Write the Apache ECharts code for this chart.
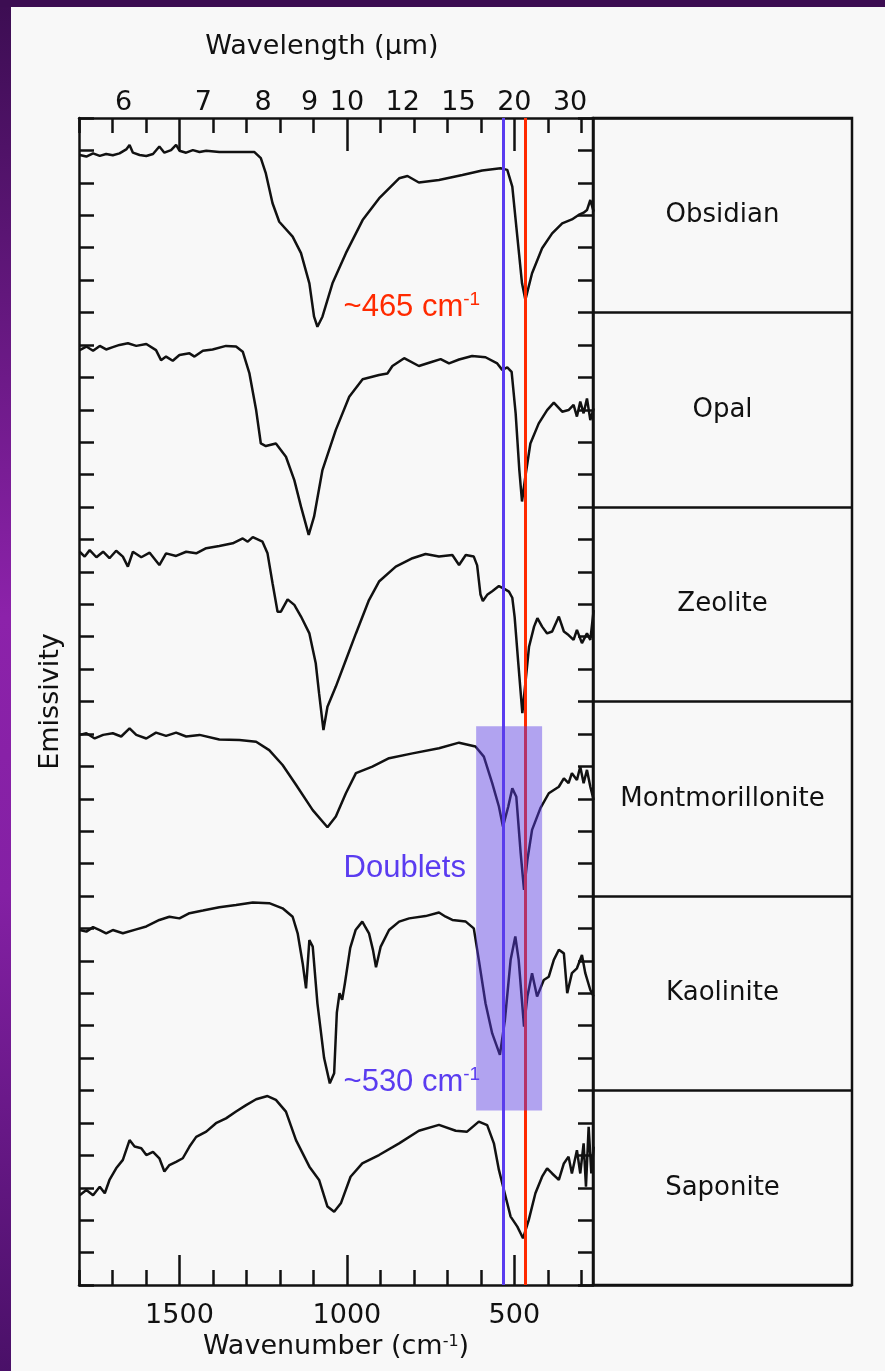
<!DOCTYPE html>
<html>
<head>
<meta charset="utf-8">
<title>Emissivity spectra</title>
<script src="https://cdn.jsdelivr.net/npm/echarts@6.0.0/dist/echarts.min.js"></script>
<style>
  html, body { margin: 0; padding: 0; background: #f8f8f8; }
  #chart { width: 885px; height: 1371px; }
</style>
</head>
<body>
<div id="chart"></div>
<script>
// wavenumber ticks (cm-1), bottom and top axes
const wnMajor = [1500, 1000, 500];
const wnMinor = [1800, 1700, 1600, 1500, 1400, 1300, 1200, 1100, 1000, 900, 800, 700, 600, 500, 400, 300];
// wavelength labels (um) on the top axis
const wavelengths = [6, 7, 8, 9, 10, 12, 15, 20, 30];
const minerals = ["Obsidian", "Opal", "Zeolite", "Montmorillonite", "Kaolinite", "Saponite"];

// spectra: [wavenumber, emissivity (stacked, in tick units)]
const obsidian = [
  [1798, 34.86], [1778, 34.81], [1758, 34.91], [1738, 34.83], [1719, 34.89], [1699, 34.85],
  [1679, 34.91], [1659, 35.03], [1649, 35.17], [1639, 34.93], [1619, 34.86], [1599, 34.83],
  [1579, 34.89], [1560, 35.12], [1545, 34.93], [1525, 35.01], [1510, 35.17], [1500, 34.99],
  [1480, 34.93], [1460, 35.01], [1440, 34.95], [1420, 34.99], [1381, 34.95], [1331, 34.95],
  [1276, 34.95], [1257, 34.76], [1242, 34.29], [1222, 33.37], [1202, 32.80], [1162, 32.34],
  [1137, 31.83], [1112, 30.90], [1098, 29.87], [1088, 29.56], [1073, 29.87], [1043, 30.90],
  [1003, 31.83], [953, 32.85], [904, 33.52], [844, 34.14], [819, 34.21], [785, 34.01],
  [725, 34.09], [655, 34.24], [596, 34.38], [541, 34.45], [521, 34.40], [506, 33.88],
  [491, 32.34], [477, 30.90], [467, 30.39], [447, 31.21], [417, 31.98], [387, 32.44],
  [357, 32.75], [328, 32.87], [308, 33.01], [293, 33.08], [283, 33.16], [273, 33.47], [263, 33.11]
];
const opal = [
  [1798, 28.84], [1778, 28.95], [1758, 28.82], [1738, 28.97], [1719, 28.86], [1699, 28.93],
  [1679, 29.00], [1654, 29.05], [1629, 28.97], [1599, 29.03], [1570, 28.84], [1555, 28.53],
  [1540, 28.64], [1520, 28.51], [1500, 28.69], [1470, 28.74], [1455, 28.64], [1430, 28.82],
  [1401, 28.86], [1361, 28.97], [1331, 28.95], [1311, 28.79], [1291, 28.12], [1271, 26.99],
  [1257, 25.96], [1242, 25.88], [1212, 25.96], [1182, 25.55], [1157, 24.83], [1137, 24.01],
  [1114, 23.14], [1098, 23.70], [1073, 25.14], [1033, 26.38], [993, 27.40], [953, 27.94],
  [904, 28.07], [879, 28.12], [864, 28.35], [829, 28.59], [785, 28.35], [745, 28.48],
  [720, 28.56], [695, 28.43], [665, 28.55], [626, 28.66], [586, 28.62], [551, 28.43],
  [536, 28.23], [521, 28.31], [508, 28.17], [496, 26.89], [485, 25.14], [477, 24.17],
  [467, 24.94], [452, 25.96], [427, 26.58], [402, 26.99], [382, 27.22], [357, 26.94],
  [338, 26.99], [323, 27.15], [313, 26.79], [303, 27.25], [293, 26.89], [283, 27.35],
  [273, 26.68], [263, 27.04]
];
const zeolite = [
  [1798, 22.62], [1783, 22.47], [1768, 22.67], [1748, 22.45], [1728, 22.62], [1709, 22.42],
  [1689, 22.65], [1669, 22.47], [1654, 22.16], [1639, 22.62], [1614, 22.45], [1589, 22.59],
  [1560, 22.21], [1540, 22.57], [1510, 22.49], [1480, 22.62], [1450, 22.57], [1420, 22.73],
  [1381, 22.80], [1341, 22.88], [1311, 23.03], [1296, 22.93], [1281, 23.07], [1252, 22.93],
  [1237, 22.57], [1222, 21.65], [1207, 20.77], [1197, 20.77], [1177, 21.15], [1157, 20.98],
  [1137, 20.62], [1112, 20.10], [1093, 19.18], [1083, 18.25], [1070, 17.12], [1058, 17.84],
  [1033, 18.46], [1003, 19.28], [973, 20.10], [934, 21.13], [904, 21.70], [854, 22.16],
  [804, 22.42], [765, 22.55], [725, 22.47], [685, 22.52], [665, 22.21], [645, 22.52],
  [621, 22.47], [611, 22.20], [601, 21.30], [594, 21.10], [581, 21.29], [566, 21.40],
  [546, 21.56], [531, 21.48], [516, 21.39], [506, 21.20], [499, 20.60], [488, 19.17],
  [476, 17.64], [466, 18.66], [456, 19.69], [441, 20.31], [431, 20.57], [417, 20.31],
  [402, 20.10], [387, 20.16], [367, 20.62], [352, 20.16], [338, 20.05], [323, 19.90],
  [313, 20.21], [298, 19.80], [283, 20.10], [273, 19.90], [263, 20.82]
];
const montmorillonite = [
  [1798, 16.97], [1778, 17.02], [1753, 16.86], [1728, 16.97], [1699, 17.02], [1674, 16.92],
  [1649, 17.17], [1629, 16.97], [1599, 16.86], [1570, 17.04], [1540, 16.94], [1510, 17.04],
  [1480, 16.92], [1440, 16.97], [1381, 16.83], [1321, 16.81], [1271, 16.76], [1232, 16.50],
  [1192, 16.04], [1152, 15.43], [1102, 14.65], [1058, 14.12], [1033, 14.45], [1003, 15.17],
  [973, 15.79], [924, 15.99], [874, 16.25], [804, 16.40], [725, 16.56], [665, 16.73],
  [616, 16.61], [591, 16.30], [566, 15.48], [546, 14.76], [534, 14.14], [518, 14.76],
  [506, 15.32], [494, 15.06], [481, 13.32], [471, 12.19], [461, 13.11], [447, 14.04],
  [422, 14.71], [397, 15.17], [367, 15.37], [352, 15.63], [338, 15.48], [328, 15.79],
  [313, 15.58], [303, 15.99], [293, 15.48], [283, 15.89], [273, 15.37], [263, 14.96]
];
const kaolinite = [
  [1798, 10.95], [1778, 10.90], [1758, 11.04], [1738, 10.95], [1719, 10.85], [1699, 10.95],
  [1669, 10.85], [1629, 10.97], [1599, 11.06], [1560, 11.26], [1530, 11.36], [1500, 11.31],
  [1470, 11.47], [1430, 11.55], [1381, 11.65], [1331, 11.72], [1281, 11.80], [1232, 11.78],
  [1192, 11.62], [1162, 11.36], [1147, 10.85], [1132, 9.92], [1122, 9.15], [1112, 10.64],
  [1102, 10.44], [1088, 8.69], [1068, 7.00], [1051, 6.22], [1038, 6.53], [1030, 8.40],
  [1022, 9.00], [1014, 8.80], [1006, 9.30], [990, 10.40], [974, 10.95], [954, 11.21], [934, 10.85],
  [922, 10.33], [913, 9.80], [899, 10.44], [874, 10.95], [844, 11.21], [814, 11.31],
  [765, 11.38], [725, 11.49], [705, 11.36], [685, 11.26], [645, 11.21], [621, 11.00],
  [606, 10.03], [586, 8.69], [566, 7.76], [543, 7.10], [528, 8.18], [511, 10.03],
  [497, 10.75], [487, 10.03], [471, 7.97], [461, 8.90], [447, 9.62], [432, 8.90],
  [412, 9.41], [397, 9.51], [382, 10.03], [367, 10.34], [352, 10.23], [342, 9.00],
  [328, 9.62], [313, 9.77], [298, 10.18], [288, 9.62], [273, 9.10], [263, 8.90]
];
const saponite = [
  [1798, 2.77], [1778, 2.93], [1758, 2.77], [1738, 3.03], [1723, 2.83], [1709, 3.24],
  [1689, 3.60], [1669, 3.86], [1649, 4.47], [1634, 4.27], [1614, 4.22], [1599, 4.01],
  [1579, 4.11], [1560, 3.91], [1545, 3.50], [1530, 3.70], [1510, 3.80], [1490, 3.91],
  [1470, 4.27], [1450, 4.57], [1420, 4.73], [1391, 4.99], [1361, 5.14], [1331, 5.35],
  [1301, 5.55], [1271, 5.73], [1237, 5.83], [1212, 5.71], [1182, 5.35], [1152, 4.47],
  [1112, 3.65], [1083, 3.24], [1058, 2.42], [1038, 2.26], [1018, 2.52], [989, 3.34],
  [954, 3.75], [904, 4.01], [844, 4.37], [785, 4.76], [725, 4.94], [675, 4.76],
  [641, 4.73], [606, 5.04], [581, 4.93], [561, 4.37], [546, 3.55], [531, 2.93],
  [511, 2.11], [491, 1.80], [474, 1.44], [457, 2.00], [437, 2.83], [417, 3.34],
  [402, 3.60], [387, 3.44], [367, 3.24], [352, 3.75], [338, 3.96], [328, 3.44],
  [313, 4.16], [303, 3.44], [293, 4.37], [286, 3.03], [278, 4.88], [270, 3.44], [263, 4.27]
];
const spectra = [obsidian, opal, zeolite, montmorillonite, kaolinite, saponite];

// reference bands (cm-1)
const doubletLine = 533; // ~530
const bandLine = 468;    // ~465

const chart = echarts.init(document.getElementById("chart"));

const ink = "#111111";
const gothic = "DejaVu Sans";
const arial = "Liberation Sans";
const red = "#ff2a00";
const blue = "#5a3cf0";

const xBase = {
  type: "value",
  gridIndex: 0,
  inverse: true,
  min: 265,
  max: 1800,
  splitLine: { show: false },
};

function note(color, main, sup) {
  return {
    show: true,
    position: "right",
    distance: 0,
    formatter: "{t|" + main + "}{s|" + sup + "}",
    rich: {
      t: { color: color, fontFamily: arial, fontSize: 31, lineHeight: 34 },
      s: { color: color, fontFamily: arial, fontSize: 19, lineHeight: 26, verticalAlign: "top" },
    },
  };
}

chart.setOption({
  backgroundColor: "#f8f8f8",
  animation: false,
  textStyle: { fontFamily: gothic, color: ink },
  graphic: [
    {
      type: "rect",
      shape: { x: 0, y: 0, width: 11, height: 1371 },
      style: {
        fill: new echarts.graphic.LinearGradient(0, 0, 0, 1, [
          { offset: 0, color: "#3c0d52" },
          { offset: 0.45, color: "#8c22aa" },
          { offset: 0.65, color: "#8420a4" },
          { offset: 1, color: "#4a1068" },
        ]),
      },
      silent: true,
    },
    {
      type: "rect",
      shape: { x: 0, y: 0, width: 885, height: 7 },
      style: { fill: "#3c0d52" },
      silent: true,
    },
  ],
  grid: [
    { left: 79, top: 118, width: 514, height: 1167 },
    { left: 593, top: 118, width: 259, height: 1167, show: true, borderColor: ink, borderWidth: 2.5, backgroundColor: "transparent" },
  ],
  xAxis: [
    Object.assign({}, xBase, {
      position: "bottom",
      axisLine: { onZero: false, lineStyle: { color: ink, width: 2.5 } },
      axisTick: { inside: true, length: 30, customValues: wnMajor, lineStyle: { color: ink, width: 2.5 } },
      axisLabel: { customValues: wnMajor, formatter: (v) => String(v), fontSize: 27, color: ink, margin: 17, fontFamily: gothic },
      name: "Wavenumber (cm{s|-1})",
      nameLocation: "middle",
      nameGap: 44,
      nameTextStyle: {
        fontSize: 27, color: ink, fontFamily: gothic,
        rich: { s: { fontSize: 16, lineHeight: 20, verticalAlign: "top", color: ink, fontFamily: gothic } },
      },
    }),
    Object.assign({}, xBase, {
      position: "bottom",
      axisLine: { show: false, onZero: false },
      axisTick: { inside: true, length: 15, customValues: wnMinor, lineStyle: { color: ink, width: 2.5 } },
      axisLabel: { show: false },
    }),
    Object.assign({}, xBase, {
      position: "top",
      axisLine: { onZero: false, lineStyle: { color: ink, width: 2.5 } },
      axisTick: { inside: true, length: 33, customValues: wnMajor, lineStyle: { color: ink, width: 2.5 } },
      axisLabel: {
        customValues: wavelengths.map((l) => 10000 / l),
        formatter: (v) => String(Math.round(10000 / v)),
        fontSize: 27, color: ink, margin: 2, fontFamily: gothic,
      },
      name: "Wavelength (\u03bcm)",
      nameLocation: "middle",
      nameGap: 58,
      nameTextStyle: { fontSize: 27, color: ink, fontFamily: gothic, padding: [0, 28, 0, 0] },
    }),
    Object.assign({}, xBase, {
      position: "top",
      axisLine: { show: false, onZero: false },
      axisTick: { inside: true, length: 15, customValues: wnMinor, lineStyle: { color: ink, width: 2.5 } },
      axisLabel: { show: false },
    }),
    { type: "value", gridIndex: 1, min: 0, max: 1, show: false },
  ],
  yAxis: [
    {
      type: "value", gridIndex: 0, position: "left", min: 0, max: 36, interval: 1,
      axisLine: { onZero: false, lineStyle: { color: ink, width: 2.5 } },
      axisTick: { inside: true, length: 15, lineStyle: { color: ink, width: 2.5 } },
      axisLabel: { show: false },
      splitLine: { show: false },
      name: "Emissivity",
      nameLocation: "middle",
      nameGap: 15,
      nameTextStyle: { fontSize: 27, color: ink, fontFamily: gothic },
    },
    {
      type: "value", gridIndex: 0, position: "right", min: 0, max: 36, interval: 1,
      axisLine: { onZero: false, lineStyle: { color: ink, width: 2.5 } },
      axisTick: { inside: true, length: 15, lineStyle: { color: ink, width: 2.5 } },
      axisLabel: { show: false },
      splitLine: { show: false },
    },
    {
      type: "category", gridIndex: 1, data: minerals, inverse: true, boundaryGap: true,
      axisLine: { show: false },
      axisTick: { show: false },
      axisLabel: { show: false },
      splitLine: { show: true, lineStyle: { color: ink, width: 2.5 } },
    },
  ],
  series: spectra.map((d, i) => ({
    name: minerals[i],
    type: "line",
    xAxisIndex: 0,
    yAxisIndex: 0,
    data: d,
    showSymbol: false,
    symbol: "none",
    silent: true,
    z: 2,
    lineStyle: { color: ink, width: 2.5 },
  })).concat([
    {
      // reference lines, doublet box and notes
      type: "line",
      xAxisIndex: 0,
      yAxisIndex: 0,
      data: [],
      silent: true,
      markLine: {
        silent: true,
        symbol: "none",
        z: 5,
        label: { show: false },
        data: [
          { xAxis: doubletLine, lineStyle: { color: blue, width: 3, type: "solid" } },
          { xAxis: bandLine, lineStyle: { color: red, width: 3, type: "solid" } },
        ],
      },
      markArea: {
        silent: true,
        z: 10,
        itemStyle: { color: "rgba(90,60,230,0.45)" },
        data: [[{ xAxis: 614, yAxis: 17.24 }, { xAxis: 417, yAxis: 5.38 }]],
      },
      markPoint: {
        silent: true,
        z: 12,
        symbolSize: 0,
        data: [
          { coord: [1010, 30.16], label: note(red, "~465 cm", "-1") },
          {
            coord: [1010, 12.86],
            label: { show: true, position: "right", distance: 0, formatter: "Doublets", color: blue, fontFamily: arial, fontSize: 31 },
          },
          { coord: [1010, 6.25], label: note(blue, "~530 cm", "-1") },
        ],
      },
    },
    {
      type: "scatter",
      xAxisIndex: 4,
      yAxisIndex: 2,
      symbolSize: 0,
      silent: true,
      itemStyle: { opacity: 1, color: ink },
      data: minerals.map((m) => [0.5, m]),
      label: {
        show: true,
        position: "inside",
        formatter: (p) => p.value[1],
        fontSize: 26,
        color: ink,
        opacity: 1,
        fontFamily: gothic,
      },
    },
  ]),
});
</script>
</body>
</html>
